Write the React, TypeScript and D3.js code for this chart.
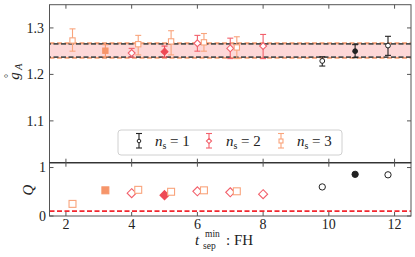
import React from "react";
import * as d3 from "d3";

const ns1X = [9.8, 10.8, 11.8];
const ns1Y = [1.229, 1.25, 1.262];
const ns1Hi = [1.238, 1.264, 1.282];
const ns1Lo = [1.218, 1.236, 1.241];
const ns1Q = [0.6, 0.86, 0.85];
const ns1Filled = [false, true, false];

const ns2X = [4, 5, 6, 7, 8];
const ns2Y = [1.246, 1.249, 1.267, 1.256, 1.261];
const ns2Hi = [1.256, 1.261, 1.284, 1.278, 1.286];
const ns2Lo = [1.237, 1.237, 1.25, 1.234, 1.234];
const ns2Q = [0.47, 0.43, 0.51, 0.49, 0.45];
const ns2Filled = [false, true, false, false, false];

const ns3X = [2.2, 3.2, 4.2, 5.2, 6.2, 7.2];
const ns3Y = [1.273, 1.251, 1.265, 1.271, 1.269, 1.258];
const ns3Hi = [1.298, 1.264, 1.284, 1.294, 1.288, 1.281];
const ns3Lo = [1.25, 1.238, 1.242, 1.242, 1.25, 1.234];
const ns3Q = [0.25, 0.53, 0.54, 0.5, 0.53, 0.51];
const ns3Filled = [false, true, false, false, false, false];

const bandLo = 1.237;
const bandHi = 1.2655;
const bandLoAlt = 1.2355;
const bandHiAlt = 1.267;
const qCut = 0.1;

const xTicks = [2, 4, 6, 8, 10, 12];
const yTicks = [1.1, 1.2, 1.3];
const qTicks = [0, 1];

const C1 = "#222222";
const C2 = "#f2606b";
const C3 = "#f9a47c";
const C3F = "#f6956a";
const C2F = "#ee4a55";

const FONT = "Liberation Serif, DejaVu Serif, serif";

function Marker({ kind, cx, cy, color, fill, s = 1 }: any) {
  if (kind === "circle")
    return <circle cx={cx} cy={cy} r={3 * s} fill={fill ? color : "white"} stroke={color} strokeWidth={1} />;
  if (kind === "diamond") {
    const r = 4.3 * s;
    return (
      <path
        d={`M${cx},${cy - r}L${cx + r},${cy}L${cx},${cy + r}L${cx - r},${cy}Z`}
        fill={fill ? color : "white"}
        stroke={color}
        strokeWidth={1.1}
      />
    );
  }
  const h = 3.3 * s;
  return <rect x={cx - h} y={cy - h} width={2 * h} height={2 * h} fill={fill ? color : "white"} stroke={color} strokeWidth={1.1} />;
}

export default function App() {
  const W = 415, H = 257;
  const x = d3.scaleLinear().domain([1.5, 12.5]).range([49.5, 411]);
  const y = d3.scaleLinear().domain([1.01, 1.35]).range([162.7, 4.7]);
  const q = d3.scaleLinear().domain([0, 1.1]).range([216, 162.7]);
  const L = 49.5, R = 411, T = 4.7, M = 162.7, B = 216;

  const series = [
    { X: ns1X, Y: ns1Y, Hi: ns1Hi, Lo: ns1Lo, Q: ns1Q, F: ns1Filled, kind: "circle", c: C1, cf: C1 },
    { X: ns2X, Y: ns2Y, Hi: ns2Hi, Lo: ns2Lo, Q: ns2Q, F: ns2Filled, kind: "diamond", c: C2, cf: C2F },
    { X: ns3X, Y: ns3Y, Hi: ns3Hi, Lo: ns3Lo, Q: ns3Q, F: ns3Filled, kind: "square", c: C3, cf: C3F },
  ];

  const axisColor = "#555";
  const tickLen = 4;
  const txt = { fontFamily: FONT };

  return (
    <svg width={W} height={H} style={{ position: "absolute", left: 0, top: 0, background: "white", fontFamily: FONT }}>
      {/* band */}
      <rect x={L} y={y(bandHi)} width={R - L} height={y(bandLo) - y(bandHi)} fill="#fdd8d8" />
      {[bandHiAlt, bandLoAlt].map((v, i) => (
        <line key={"o" + i} x1={L} x2={R} y1={y(v)} y2={y(v)} stroke="#f39a70" strokeWidth={1.8} strokeDasharray="5,2.5" />
      ))}
      {[bandHi, bandLo].map((v, i) => (
        <line key={"g" + i} x1={L} x2={R} y1={y(v)} y2={y(v)} stroke="#505050" strokeWidth={1.8} strokeDasharray="5,2.5" strokeDashoffset={3.5} />
      ))}
      {/* Q cut */}
      <line x1={L} x2={R} y1={q(qCut)} y2={q(qCut)} stroke="#f2262e" strokeWidth={1.8} strokeDasharray="5,2.5" />

      {/* error bars and markers */}
      {series.map((s, si) =>
        s.X.map((xv, i) => {
          const cx = x(xv);
          const col = s.F[i] ? s.cf : s.c;
          return (
            <g key={si + "-" + i}>
              <line x1={cx} x2={cx} y1={y(s.Hi[i])} y2={y(s.Lo[i])} stroke={col} strokeWidth={1.1} />
              <line x1={cx - 3} x2={cx + 3} y1={y(s.Hi[i])} y2={y(s.Hi[i])} stroke={col} strokeWidth={1.1} />
              <line x1={cx - 3} x2={cx + 3} y1={y(s.Lo[i])} y2={y(s.Lo[i])} stroke={col} strokeWidth={1.1} />
              <Marker kind={s.kind} cx={cx} cy={y(s.Y[i])} color={col} fill={s.F[i]} s={0.8} />
              <Marker kind={s.kind} cx={cx} cy={q(s.Q[i])} color={col} fill={s.F[i]} s={1.05} />
            </g>
          );
        })
      )}

      {/* frames */}
      <rect x={L} y={T} width={R - L} height={M - T} fill="none" stroke={axisColor} strokeWidth={1} />
      <rect x={L} y={M} width={R - L} height={B - M} fill="none" stroke={axisColor} strokeWidth={1} />
      <line x1={L} x2={R} y1={M} y2={M} stroke="#333" strokeWidth={1.2} />

      {/* x ticks */}
      {xTicks.map((t) => (
        <g key={"xt" + t}>
          <line x1={x(t)} x2={x(t)} y1={M} y2={M - tickLen} stroke={axisColor} />
          <line x1={x(t)} x2={x(t)} y1={T} y2={T + tickLen} stroke={axisColor} />
          <line x1={x(t)} x2={x(t)} y1={M} y2={M + tickLen} stroke={axisColor} />
          <line x1={x(t)} x2={x(t)} y1={B} y2={B - tickLen} stroke={axisColor} />
          <text style={txt} x={x(t)} y={228.8} textAnchor="middle" fontSize={14} fill="#222">{t}</text>
        </g>
      ))}
      {yTicks.map((t) => (
        <g key={"yt" + t}>
          <line x1={L} x2={L + tickLen} y1={y(t)} y2={y(t)} stroke={axisColor} />
          <line x1={R} x2={R - tickLen} y1={y(t)} y2={y(t)} stroke={axisColor} />
          <text style={txt} x={44} y={y(t) + 4.8} textAnchor="end" fontSize={14} fill="#222">{t.toFixed(1)}</text>
        </g>
      ))}
      {qTicks.map((t) => (
        <g key={"qt" + t}>
          <line x1={L} x2={L + tickLen} y1={q(t)} y2={q(t)} stroke={axisColor} />
          <line x1={R} x2={R - tickLen} y1={q(t)} y2={q(t)} stroke={axisColor} />
          <text style={txt} x={46} y={q(t) + 4.8} textAnchor="end" fontSize={14} fill="#222">{t}</text>
        </g>
      ))}

      {/* axis labels */}
      <g transform="translate(19,72) rotate(-90)">
        <text style={txt} x={-4} y={0} textAnchor="middle" fontSize={15} fill="#222" fontStyle="italic">g</text>
        <text style={txt} x={-4} y={-7} textAnchor="middle" fontSize={10} fill="#222">°</text>
        <text style={txt} x={2} y={3} fontSize={10.5} fill="#222" fontStyle="italic">A</text>
      </g>
      <g transform="translate(33,190) rotate(-90)">
        <text style={txt} textAnchor="middle" fontSize={15} fill="#222" fontStyle="italic">Q</text>
      </g>
      <g fill="#222">
        <text style={txt} x={195} y={245} fontSize={15} fontStyle="italic">t</text>
        <text style={txt} x={205} y={237} fontSize={9.5}>min</text>
        <text style={txt} x={203} y={249} fontSize={9.5}>sep</text>
        <text style={txt} x={226} y={245} fontSize={15}>: FH</text>
      </g>

      {/* legend */}
      <rect x={118} y={130} width={224} height={25} rx={3} fill="white" fillOpacity={0.85} stroke="#d0d0d0" strokeWidth={1} />
      {[
        { cx: 139, tx: 155, c: C1, kind: "circle", lab: "1" },
        { cx: 209, tx: 226, c: C2, kind: "diamond", lab: "2" },
        { cx: 281, tx: 297, c: C3, kind: "square", lab: "3" },
      ].map((e) => (
        <g key={e.lab}>
          <line x1={e.cx} x2={e.cx} y1={133.5} y2={148} stroke={e.c} strokeWidth={1.1} />
          <line x1={e.cx - 3} x2={e.cx + 3} y1={133.5} y2={133.5} stroke={e.c} strokeWidth={1.1} />
          <line x1={e.cx - 3} x2={e.cx + 3} y1={148} y2={148} stroke={e.c} strokeWidth={1.1} />
          <Marker kind={e.kind} cx={e.cx} cy={141} color={e.c} fill={false} s={0.6} />
          <text style={txt} x={e.tx} y={146} fontSize={15} fill="#222" fontStyle="italic">n</text>
          <text style={txt} x={e.tx + 7.5} y={149} fontSize={10} fill="#222">s</text>
          <text style={txt} x={e.tx + 15} y={146} fontSize={15} fill="#222">= {e.lab}</text>
        </g>
      ))}
    </svg>
  );
}
